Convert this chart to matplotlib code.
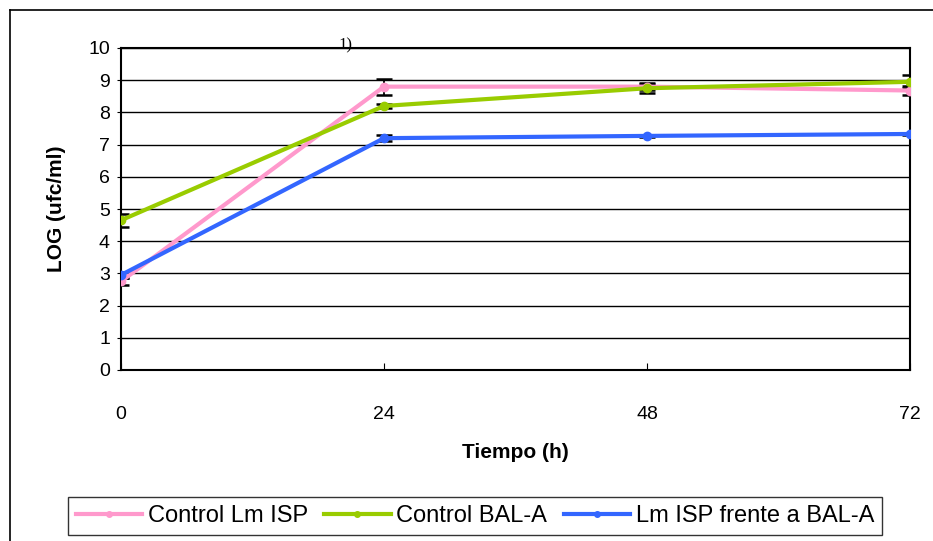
import matplotlib
matplotlib.use("Agg")
import matplotlib.pyplot as plt
from matplotlib.lines import Line2D
import numpy as np

hours = [0, 24, 48, 72]
series_names = ["Control Lm ISP", "Control BAL-A", "Lm ISP frente a BAL-A"]
control_lm = [2.75, 8.8, 8.8, 8.68]
control_lm_err = [0.12, 0.25, 0.1, 0.13]
control_bal = [4.65, 8.2, 8.75, 8.95]
control_bal_err = [0.2, 0.07, 0.14, 0.2]
lm_vs_bal = [2.95, 7.2, 7.27, 7.33]
lm_vs_bal_err = [0.08, 0.1, 0.04, 0.04]
colors = ["#ff99cc", "#99cc00", "#3366ff"]
yticks = list(range(0, 11))

plt.rcParams['font.family'] = ['Liberation Sans', 'DejaVu Sans']

fig = plt.figure(figsize=(9.33, 5.41), dpi=100)
ax = fig.add_axes([121/933, 1-370/541, (910-121)/933, (370-48)/541])

for vals, errs, c in zip([control_lm, control_bal, lm_vs_bal],
                         [control_lm_err, control_bal_err, lm_vs_bal_err], colors):
    ax.errorbar(hours, vals, yerr=errs, color=c, lw=3, marker='o', ms=6,
                ecolor='black', elinewidth=1.3, capsize=6, capthick=1.8, zorder=3)

ax.set_xlim(0, 72)
ax.set_ylim(0, 10)
ax.set_yticks(yticks)
ax.set_xticks(hours)
ax.yaxis.grid(True, color='black', lw=1)
ax.set_axisbelow(True)
for s in ax.spines.values():
    s.set_linewidth(1.5)
    s.set_color('black')
ax.tick_params(axis='x', direction='in', length=5, pad=26, labelsize=14)
ax.tick_params(axis='y', direction='out', length=3, pad=5, labelsize=14)
ax.set_ylabel("LOG (ufc/ml)", fontsize=15, fontweight='bold', labelpad=16)
ax.set_xlabel("Tiempo (h)", fontsize=15, fontweight='bold', labelpad=14)

fig.text(345/933, 1-45/541, "1)", fontsize=12, family='Liberation Serif', ha='center', va='center')

# outer frame
fig.add_artist(Line2D([10/933, 1], [1-10/541, 1-10/541], transform=fig.transFigure, color='black', lw=1.2))
fig.add_artist(Line2D([10/933, 10/933], [0, 1-10/541], transform=fig.transFigure, color='black', lw=1.2))

handles = [Line2D([0], [0], color=c, lw=3, marker='o', ms=4) for c in colors]
leg = fig.legend(handles, series_names, loc='center', ncol=3,
                 bbox_to_anchor=(475/933, 1-516/541), fontsize=17, frameon=True,
                 fancybox=False, edgecolor='black', handlelength=2.8, handletextpad=0.25,
                 columnspacing=0.7, borderpad=0.35)
leg.get_frame().set_linewidth(1.0)

fig.savefig("out.png", dpi=100)
